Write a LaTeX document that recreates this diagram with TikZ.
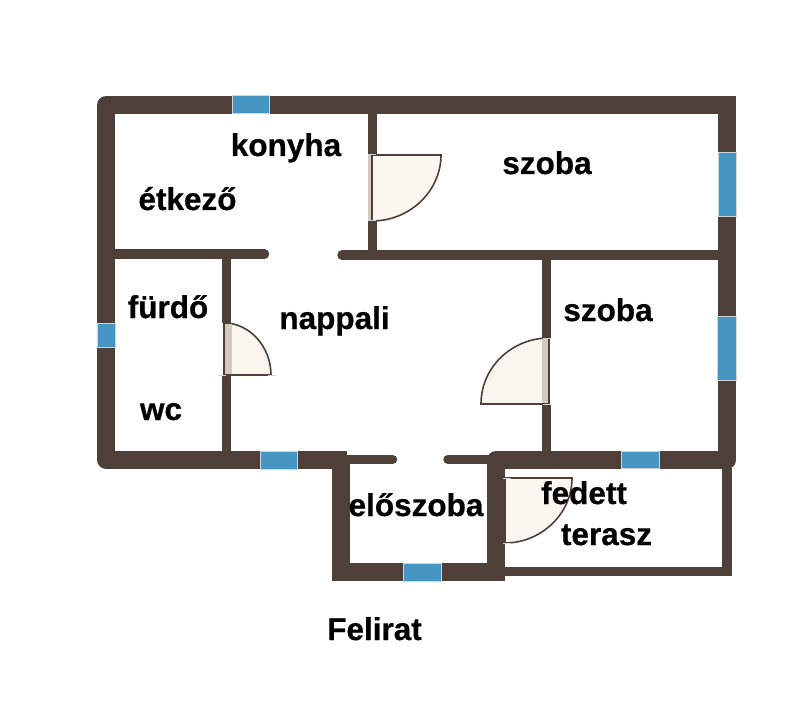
\documentclass[tikz,border=0pt]{standalone}
\usepackage{fontspec}
\setmainfont{Liberation Sans}[BoldFeatures={FakeBold=0.6}]
\definecolor{wallc}{HTML}{4F3F39}
\definecolor{glassc}{HTML}{4596C3}
\definecolor{leafc}{HTML}{FBF5EF}
\definecolor{jambc}{HTML}{D2C9C0}
\definecolor{tickc}{HTML}{CFD5D8}
\tikzset{%
	wallthick/.style = {draw=wallc, line width=18pt, line join=round},
	wallthin/.style  = {draw=wallc, line width=9.5pt},
	window/.style    = {fill=glassc, draw=tickc, line width=1pt},
	jamb/.style      = {fill=jambc},
	door/.style      = {fill=leafc, draw=wallc, line width=1.6pt},
	doortick/.style  = {draw=tickc, line width=1pt},
	room/.style      = {font=\bfseries\fontsize{31.5}{36}\selectfont, anchor=base, inner sep=0pt, text=black},
}
\begin{document}
\begin{tikzpicture}[x=1pt,y=-1pt]
	\useasboundingbox (0,0) rectangle (800,711);

	% outer walls
	\draw[wallthick] (736,105) -- (106,105) -- (106,459.5) -- (347,459.5);
	\draw[wallthick] (727,96) -- (727,460) -- (496,460) -- (496,581);
	\draw[wallthick,line join=miter] (341,455) -- (341,572) -- (505,572);

	% inner walls
	\draw[wallthin,line cap=round] (110,254) -- (264.5,254);
	\draw[wallthin,line cap=round] (342,255) -- (722,255);
	\draw[wallthin,line cap=round] (345,459.5) -- (392.5,459.5);
	\draw[wallthin,line cap=round] (448,459.5) -- (490,459.5);
	\draw[wallthin] (372.5,110) -- (372.5,250);
	\draw[wallthin] (226.5,254) -- (226.5,323);
	\draw[wallthin] (226.5,375) -- (226.5,455);
	\draw[wallthin] (546.5,255) -- (546.5,338);
	\draw[wallthin] (546.5,404) -- (546.5,455);
	\draw[wallthin] (727,468) -- (727,571.5) -- (505,571.5);

	% windows
	\foreach \xa/\ya/\xb/\yb in {232/96/269/114, 718/153/736/217, 717/316/736/380, 97/323/115/347,
		260/451/297/469, 621/451/659/468, 403/563/441/581}
		\filldraw[window] (\xa,\ya) rectangle (\xb,\yb);

	% doors
	\fill[white] (368,155) rectangle (377,221);
	\fill[jamb] (368,155) rectangle (374,221);
	\draw[door] (372,155) -- (441,155) .. controls (441,191) and (410,221) .. (372,221) -- cycle;
	\fill[white] (222,323) rectangle (231,375);
	\draw[door] (224,375) -- (271,375) .. controls (271,347) and (250,323) .. (224,323) -- cycle;
	\fill[jamb] (224.8,324) rectangle (232,374.2);
	\fill[white] (542,338) rectangle (551,404);
	\draw[door] (549,404) -- (481,404) .. controls (481,367) and (512,338) .. (549,338) -- cycle;
	\fill[jamb] (542,339) rectangle (548.2,403.2);
	\draw[door] (505,478) -- (572,478) .. controls (572,514) and (541,543) .. (505,543) -- cycle;

	\foreach \xa/\ya/\xb/\yb in {368/155/376/155, 368/221/376/221, 218/375/226/375, 268/375/276/375,
		543/338/551/338, 543/404/551/404, 503/478/511/478, 503/543/511/543}
		\draw[doortick] (\xa,\ya) -- (\xb,\yb);

	% rooms
	\node[room] (konyha) at (286,156) {konyha};
	\node[room] (etkezo) at (187.5,210) {étkező};
	\node[room] (szobaA) at (547,174) {szoba};
	\node[room] (furdo) at (168,318) {fürdő};
	\node[room] (nappali) at (334.5,329) {nappali};
	\node[room] (wc) at (161,420) {wc};
	\node[room] (szobaB) at (608,321) {szoba};
	\node[room] (eloszoba) at (416,516) {előszoba};
	\node[room] (fedett) at (584,504) {fedett};
	\node[room] (terasz) at (606.5,545) {terasz};
	\node[room] (felirat) at (374.5,640) {Felirat};
\end{tikzpicture}
\end{document}
